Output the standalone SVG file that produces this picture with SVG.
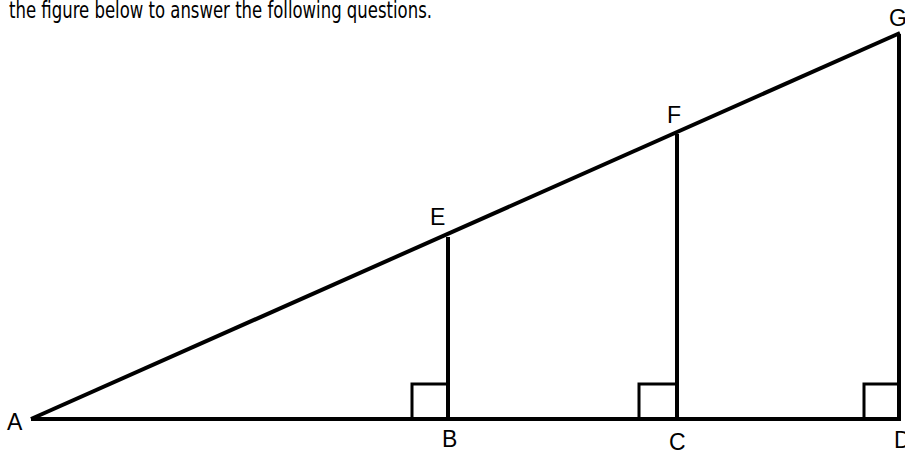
<svg xmlns="http://www.w3.org/2000/svg" width="905" height="454" viewBox="0 0 905 454">
<style>
.ln{stroke:#000;stroke-width:4;fill:none;stroke-linecap:butt}
.sq{stroke:#000;stroke-width:3;fill:none}
.lb{font-family:"Liberation Sans",Arial,sans-serif;font-size:23px;fill:#000}
.tt{font-family:"Comic Sans MS","DejaVu Sans",sans-serif;font-size:23px;fill:#000}
</style>
<rect width="905" height="454" fill="#fff"/>
<text class="tt" x="9" y="18" textLength="423" lengthAdjust="spacingAndGlyphs">the figure below to answer the following questions.</text>
<g id="connectors">
<line class="ln" x1="31" y1="419" x2="901" y2="419"/>
<line class="ln" x1="31" y1="419" x2="900" y2="33"/>
<line class="ln" x1="448" y1="237" x2="448" y2="421"/>
<line class="ln" x1="677" y1="134" x2="677" y2="421"/>
<line class="ln" x1="899" y1="34" x2="899" y2="421"/>
<polyline class="sq" points="412,419 412,384 448,384"/>
<polyline class="sq" points="639,419 639,384 677,384"/>
<polyline class="sq" points="864,419 864,384 899,384"/>
</g>
<g id="A"><text class="lb" x="7" y="430">A</text></g>
<g id="B"><text class="lb" x="442" y="447">B</text></g>
<g id="C"><text class="lb" x="669" y="450">C</text></g>
<g id="D"><text class="lb" x="894" y="448">D</text></g>
<g id="E"><text class="lb" x="430" y="225">E</text></g>
<g id="F"><text class="lb" x="667" y="123">F</text></g>
<g id="G"><text class="lb" x="889" y="26">G</text></g>
</svg>
